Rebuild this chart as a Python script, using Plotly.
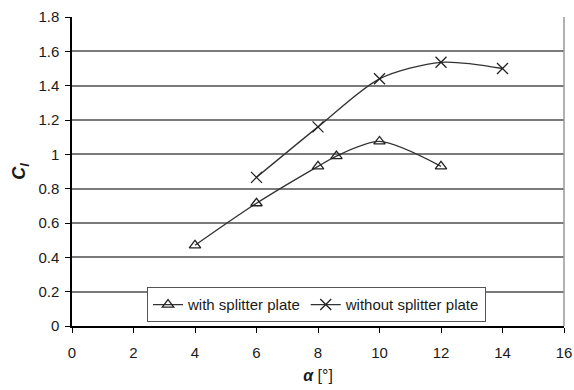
import plotly.graph_objects as go

alpha_with = [4, 6, 8, 8.6, 10, 12]
cl_with = [0.47, 0.715, 0.93, 0.99, 1.075, 0.93]
alpha_without = [6, 8, 10, 12, 14]
cl_without = [0.866, 1.16, 1.44, 1.536, 1.50]
series_names = ["with splitter plate", "without splitter plate"]

fig = go.Figure()
fig.add_trace(go.Scatter(
    x=alpha_with, y=cl_with, name=series_names[0], mode="lines+markers",
    line=dict(color="#333333", width=1.3, shape="spline", smoothing=0.8),
    marker=dict(symbol="triangle-up-open", size=10, color="#222222", line=dict(width=1.3)),
))
fig.add_trace(go.Scatter(
    x=alpha_without, y=cl_without, name=series_names[1], mode="lines+markers",
    line=dict(color="#333333", width=1.3, shape="spline", smoothing=0.8),
    marker=dict(symbol="x-thin-open", size=11, color="#222222", line=dict(width=1.3)),
))

font = "Liberation Sans, Arial, sans-serif"
fig.update_layout(
    width=574, height=390,
    margin=dict(l=72, r=10, t=17, b=64, autoexpand=False),
    paper_bgcolor="white", plot_bgcolor="white",
    font=dict(family=font, size=15, color="#1a1a1a"),
    showlegend=True,
    legend=dict(orientation="h", x=0.497, xanchor="center", y=0.012, yanchor="bottom",
                bordercolor="#555555", borderwidth=1, bgcolor="white",
                font=dict(size=15), itemwidth=30),
    xaxis=dict(range=[0, 16], tickvals=list(range(0, 17, 2)), showgrid=False,
               zeroline=False, showline=True, linecolor="black", linewidth=1.5,
               ticks="outside", ticklen=5, tickcolor="black", tickwidth=1.3,
               automargin=False, ticklabelstandoff=7,
               title=dict(text="<b><i>α</i></b> [°]", font=dict(size=16), standoff=10)),
    yaxis=dict(range=[0, 1.8], tickvals=[0, 0.2, 0.4, 0.6, 0.8, 1, 1.2, 1.4, 1.6, 1.8],
               ticktext=["0", "0.2", "0.4", "0.6", "0.8", "1", "1.2", "1.4", "1.6", "1.8"],
               showgrid=True, gridcolor="#7a7a7a", gridwidth=1.5,
               zeroline=False, showline=True, linecolor="black", linewidth=1.5,
               ticks="outside", ticklen=5, tickcolor="black", tickwidth=1.3,
               automargin=False, ticklabelstandoff=3,
               title=dict(text="<b><i>C<sub>l</sub></i></b>", font=dict(size=18), standoff=8)),
)
fig.add_shape(type="line", xref="paper", yref="paper", x0=1, x1=1, y0=0, y1=1,
              line=dict(color="#999999", width=1.5))
fig.write_html("out.html")
